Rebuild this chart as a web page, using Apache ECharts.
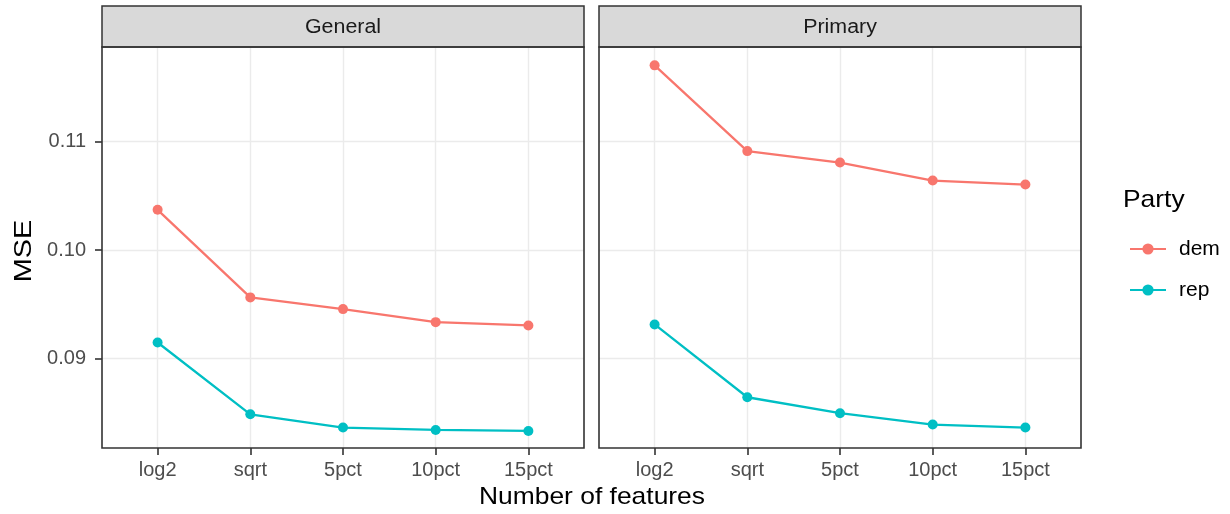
<!DOCTYPE html>
<html><head><meta charset="utf-8">
<script src="https://cdn.jsdelivr.net/npm/echarts@6/dist/echarts.min.js"></script>
<style>html,body{margin:0;padding:0;background:#fff}#c{width:1230px;height:514px}</style>
</head><body><div id="c"></div>
<script>
const categories = ['log2', 'sqrt', '5pct', '10pct', '15pct'];
const panels = ['General', 'Primary'];
const generalDem = [0.1037, 0.09564, 0.09456, 0.09336, 0.09306];
const generalRep = [0.09149, 0.08488, 0.08366, 0.08344, 0.08335];
const primaryDem = [0.11699, 0.10910, 0.10805, 0.10639, 0.10602];
const primaryRep = [0.09315, 0.08645, 0.08498, 0.08394, 0.08366];
const yTicks = [0.09, 0.10, 0.11];
const partyNames = ['dem', 'rep'];
const colors = { dem: '#F8766D', rep: '#00BFC4' };

const FONT = 'Liberation Sans';
const gridLefts = [102, 599];
const gridW = 482, gridTop = 47, gridH = 401;
const xTickVals = categories.map((c, i) => i + 1);

const grids = gridLefts.map(l => ({ left: l, top: gridTop, width: gridW, height: gridH, show: false }));
const xAxes = gridLefts.map((l, i) => ({
  type: 'value', gridIndex: i, min: 0.4, max: 5.6,
  axisLine: { show: false },
  axisTick: { show: true, length: 7, customValues: xTickVals, lineStyle: { color: '#333', width: 1.6 } },
  axisLabel: { customValues: xTickVals, formatter: v => categories[Math.round(v) - 1] || '', color: '#4d4d4d', fontSize: 20, fontFamily: FONT, margin: 12 },
  splitLine: { show: true, lineStyle: { color: '#ebebeb', width: 1.4 } }
}));
const yAxes = gridLefts.map((l, i) => ({
  type: 'value', gridIndex: i, min: 0.08178, max: 0.11868,
  axisLine: { show: false },
  axisTick: { show: i === 0, length: 7, customValues: yTicks, lineStyle: { color: '#333', width: 1.6 } },
  axisLabel: { show: i === 0, customValues: yTicks, formatter: v => v.toFixed(2), color: '#4d4d4d', fontSize: 20, fontFamily: FONT, margin: 16 },
  splitLine: { show: true, lineStyle: { color: '#ebebeb', width: 1.4 } }
}));

function mk(name, vals, idx) {
  return {
    type: 'line', name: name, xAxisIndex: idx, yAxisIndex: idx,
    data: vals.map((v, i) => [i + 1, v]),
    symbol: 'circle', symbolSize: 10,
    lineStyle: { color: colors[name], width: 2.3 },
    itemStyle: { color: colors[name] },
    emphasis: { disabled: true }, animation: false, z: 5
  };
}

const graphics = [];
gridLefts.forEach((l, i) => {
  graphics.push({ type: 'rect', shape: { x: l, y: 6, width: gridW, height: gridTop - 6 }, style: { fill: '#d9d9d9', stroke: '#333', lineWidth: 1.5 }, z: 10 });
  graphics.push({ type: 'text', x: l + gridW / 2, y: 27, scaleX: 1.07, style: { text: panels[i], font: '20px ' + FONT, fill: '#1a1a1a', align: 'center', verticalAlign: 'middle' }, z: 11 });
  graphics.push({ type: 'rect', shape: { x: l, y: gridTop, width: gridW, height: gridH }, style: { fill: 'none', stroke: '#333', lineWidth: 1.6 }, z: 10 });
});
graphics.push({ type: 'text', x: 592, y: 497, scaleX: 1.1, style: { text: 'Number of features', font: '24px ' + FONT, fill: '#000', align: 'center', verticalAlign: 'middle' } });
graphics.push({ type: 'text', x: 24, y: 251, rotation: Math.PI / 2, scaleX: 1.2, style: { text: 'MSE', font: '24px ' + FONT, fill: '#000', align: 'center', verticalAlign: 'middle' } });
graphics.push({ type: 'text', x: 1123, y: 200, scaleX: 1.1, style: { text: 'Party', font: '24px ' + FONT, fill: '#000', align: 'left', verticalAlign: 'middle' } });

const option = {
  animation: false,
  grid: grids, xAxis: xAxes, yAxis: yAxes,
  legend: {
    data: partyNames, orient: 'vertical', left: 1124, top: 233,
    itemWidth: 36, itemHeight: 14, itemGap: 19, selectedMode: false,
    textStyle: { fontSize: 21, lineHeight: 22, fontFamily: FONT, color: '#000', padding: [0, 0, 0, 8] }
  },
  graphic: graphics,
  series: [
    mk('dem', generalDem, 0), mk('rep', generalRep, 0),
    mk('dem', primaryDem, 1), mk('rep', primaryRep, 1)
  ]
};
echarts.init(document.getElementById('c')).setOption(option);
</script></body></html>
